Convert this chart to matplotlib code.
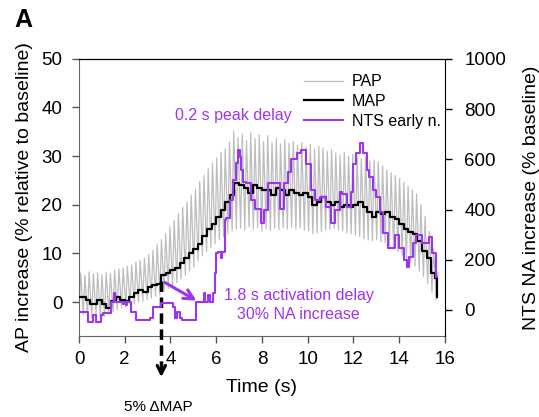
import numpy as np
import matplotlib
matplotlib.use('Agg')
import matplotlib.pyplot as plt

plt.rcParams['font.family'] = ['Liberation Sans', 'DejaVu Sans']

# ---------------- data ----------------
BEAT_PERIOD = 0.186  # s, one pulse of the PAP trace

pap_peaks = [6.0, 5.5, 6.2, 5.8, 6.0, 5.6, 6.1, 5.9, 6.5, 6.8,
             7.0, 7.4, 7.6, 8.2, 8.6, 9.0, 9.8, 10.6, 11.8, 12.8,
             14.0, 15.5, 16.8, 18.2, 19.5, 20.6, 22.0, 23.2, 24.8, 26.0,
             27.4, 28.5, 29.6, 30.8, 31.5, 33.0, 35.2, 33.8, 34.5, 33.2,
             34.8, 33.6, 34.4, 33.0, 34.2, 32.8, 33.6, 32.5, 33.4, 32.6,
             33.0, 32.2, 32.8, 31.8, 32.4, 31.5, 32.0, 31.6, 31.0, 31.4,
             30.6, 30.2, 30.8, 30.0, 30.4, 29.8, 29.5, 29.8, 29.0, 29.2,
             28.8, 28.0, 27.2, 26.6, 26.0, 25.4, 24.6, 23.8, 23.0, 22.2,
             20.0, 17.6, 14.5, 11.0, 6.0]
pap_troughs = [-2.0, -2.5, -2.8, -3.0, -2.6, -3.2, -3.0, -2.4, -2.0, -1.6,
               -1.2, -1.0, -0.6, -0.4, 0.0, 0.2, 0.5, 0.8, 1.2, 1.5,
               2.2, 2.8, 3.4, 4.0, 4.8, 5.5, 6.4, 7.2, 8.4, 9.5,
               10.4, 11.2, 12.0, 12.8, 13.4, 14.0, 14.6, 15.0, 15.2, 14.8,
               15.4, 15.0, 15.3, 14.6, 15.1, 14.8, 15.2, 14.9, 15.3, 15.0,
               15.4, 15.0, 15.2, 14.8, 14.6, 14.0, 14.2, 14.5, 14.8, 15.0,
               15.2, 14.8, 14.6, 14.2, 14.0, 13.8, 13.5, 13.0, 12.8, 12.6,
               12.8, 12.4, 12.2, 11.6, 11.0, 10.4, 9.6, 9.0, 8.2, 7.4,
               6.4, 5.2, 3.8, 2.0, 0.5]

map_t = [0.0, 0.3, 0.5, 0.8, 1.0, 1.2, 1.4, 1.6, 1.8, 2.0, 2.2, 2.4, 2.6, 2.8,
         3.0, 3.2, 3.4, 3.6, 3.8, 4.0, 4.2, 4.4, 4.6, 4.8, 5.0, 5.2, 5.4, 5.6,
         5.8, 6.0, 6.2, 6.4, 6.6, 6.8, 7.0, 7.2, 7.4, 7.6, 7.8, 8.0, 8.2, 8.4,
         8.6, 8.8, 9.0, 9.2, 9.4, 9.6, 9.8, 10.0, 10.2, 10.4, 10.6, 10.8, 11.0,
         11.2, 11.4, 11.6, 11.8, 12.0, 12.2, 12.4, 12.6, 12.8, 13.0, 13.2, 13.4,
         13.6, 13.8, 14.0, 14.2, 14.4, 14.6, 14.8, 15.0, 15.2, 15.4, 15.55, 15.65]
map_v = [1.0, 0.5, -0.3, 0.5, -0.5, -1.2, 0.3, 1.0, 0.5, 0.3, 1.0, 1.8, 2.5, 2.0,
         3.0, 3.5, 3.8, 5.5, 6.0, 6.5, 7.0, 8.0, 9.0, 10.0, 11.0, 12.0, 13.5, 15.0,
         16.0, 17.5, 19.0, 20.5, 22.0, 24.5, 24.0, 23.5, 22.5, 24.0, 23.5, 23.0, 23.0, 22.0,
         23.5, 23.0, 22.0, 23.0, 22.5, 22.0, 22.5, 21.5, 20.0, 20.5, 21.5, 20.5, 20.0,
         20.5, 19.5, 20.0, 19.5, 20.0, 20.5, 19.5, 18.5, 17.5, 18.5, 18.0, 18.5,
         17.5, 17.0, 16.0, 15.0, 14.5, 14.0, 12.5, 10.5, 9.0, 6.0, 5.0, 1.0]

nts_t = [0.0, 0.38, 0.6, 0.75, 0.97, 1.04, 1.4, 1.52, 1.58, 1.91, 1.98, 2.05,
         2.12, 2.28, 2.49, 3.1, 3.24, 3.6, 4.1, 4.2, 4.3, 4.4, 4.5, 5.13, 5.45,
         5.52, 5.65, 5.72, 5.86, 5.93, 6.0, 6.1, 6.2, 6.25, 6.37, 6.45, 6.6, 6.73,
         6.88, 6.95, 7.02, 7.1, 7.17, 7.31, 7.53, 7.68, 7.97, 8.1, 8.25, 8.77,
         8.98, 9.13, 9.27, 9.55, 9.7, 9.93, 10.15, 10.3, 10.52, 10.8, 11.0, 11.2,
         11.4, 11.5, 11.7, 11.9, 12.0, 12.1, 12.3, 12.4, 12.6, 12.7, 12.85, 13.0,
         13.15, 13.3, 13.5, 13.8, 14.0, 14.2, 14.35, 14.45, 14.6, 14.75, 15.0,
         15.3, 15.45, 15.6, 15.65]
nts_v = [-7, -46, -20, -46, -20, -13, 33, 66, 33, 25, 33, 20,
         33, -7, -40, -30, 13, 27, 13, -33, -10, -33, -40, 33, 66,
         33, 60, 33, 66, 146, 225, 232, 205, 232, 358, 365, 437, 517,
         584, 636, 610, 557, 510, 504, 437, 404, 345, 398, 504, 404,
         504, 550, 603, 623, 636, 583, 477, 437, 450, 411, 345, 398,
         470, 460, 411, 470, 583, 623, 663, 623, 557, 530, 477, 450,
         391, 305, 245, 298, 245, 199, 172, 212, 265, 298, 265,
         290, 225, 132, 132]

legend_labels = ['PAP', 'MAP', 'NTS early n.']
x_ticks = [0, 2, 4, 6, 8, 10, 12, 14, 16]
left_ticks = [0, 10, 20, 30, 40, 50]
right_ticks = [0, 200, 400, 600, 800, 1000]

PURPLE = '#9B35F0'
GRAY = '#BDBDBD'

# ---------------- figure ----------------
fig = plt.figure(figsize=(5.39, 4.17), dpi=100)
ax = fig.add_axes([0.1466, 0.194, 0.6787, 0.665])
ax2 = ax.twinx()

# PAP pulse waveform: trough at beat start, peak shortly after
beat_t = np.arange(len(pap_peaks)) * BEAT_PERIOD
pap_x = np.empty(2 * len(beat_t))
pap_y = np.empty(2 * len(beat_t))
pap_x[0::2] = beat_t
pap_x[1::2] = beat_t + 0.07
pap_y[0::2] = pap_troughs
pap_y[1::2] = pap_peaks
l_pap, = ax.plot(pap_x, pap_y, color=GRAY, lw=0.9, zorder=1)
l_map, = ax.plot(map_t, map_v, color='black', lw=1.6, drawstyle='steps-post', zorder=3)
l_nts, = ax2.plot(nts_t, nts_v, color=PURPLE, lw=1.5, drawstyle='steps-post', zorder=3)

ax.set_xlim(0, 16)
ax.set_ylim(-7, 50)
ax2.set_ylim(-104, 1000)
ax.set_xticks(x_ticks)
ax.set_yticks(left_ticks)
ax2.set_yticks(right_ticks)

ax.tick_params(axis='y', direction='out', length=5, width=1, labelsize=13.5,
               color='#555555', pad=7)
ax.tick_params(axis='x', direction='out', length=5, width=1, labelsize=13.5,
               color='#555555', pad=6)
ax2.tick_params(direction='out', length=5, width=1, labelsize=13.5, pad=9)

for s in ['left', 'bottom']:
    ax.spines[s].set_color('#666666')
    ax2.spines[s].set_visible(False)
ax.spines['top'].set_color('black')
ax2.spines['top'].set_color('black')
ax2.spines['right'].set_color('black')
ax.spines['right'].set_visible(False)

ax.set_xlabel('Time (s)', fontsize=14, labelpad=8)
ax.set_ylabel('AP increase (% relative to baseline)', fontsize=14, labelpad=6)
ax2.set_ylabel('NTS NA increase (% baseline)', fontsize=14, labelpad=12)

ax2.legend([l_pap, l_map, l_nts], legend_labels, loc='upper left',
           bbox_to_anchor=(0.585, 0.985), frameon=False, fontsize=11.5,
           handlelength=2.4, handletextpad=0.6, labelspacing=0.3, borderaxespad=0.3)

# annotations
ax.text(6.73, 38.3, '0.2 s peak delay', color=PURPLE, fontsize=11.5,
        ha='center', va='center')
ax.text(9.6, 1.3, '1.8 s activation delay', color=PURPLE, fontsize=11.5,
        ha='center', va='center')
ax.text(9.6, -2.6, '30% NA increase', color=PURPLE, fontsize=11.5,
        ha='center', va='center')

ax.annotate('', xy=(5.25, 0.0), xytext=(3.65, 4.3),
            arrowprops=dict(arrowstyle='->,head_length=0.7,head_width=0.35',
                            color=PURPLE, lw=2.2), zorder=5)

# dashed arrow marking 5% MAP onset
ax.plot([3.6, 3.6], [4.3, -14.5], color='black', lw=2.5, ls=(0, (3, 1.6)),
        clip_on=False, zorder=6)
ax.annotate('', xy=(3.6, -16.0), xytext=(3.6, -13.0),
            arrowprops=dict(arrowstyle='->,head_length=0.6,head_width=0.3',
                            color='black', lw=2.2),
            annotation_clip=False)
ax.text(3.45, -21.6, '5% \u0394MAP', fontsize=11, ha='center', va='center',
        clip_on=False)

fig.text(0.026, 0.952, 'A', fontsize=18, fontweight='bold', ha='left', va='center')

fig.savefig('out.png', dpi=100)
